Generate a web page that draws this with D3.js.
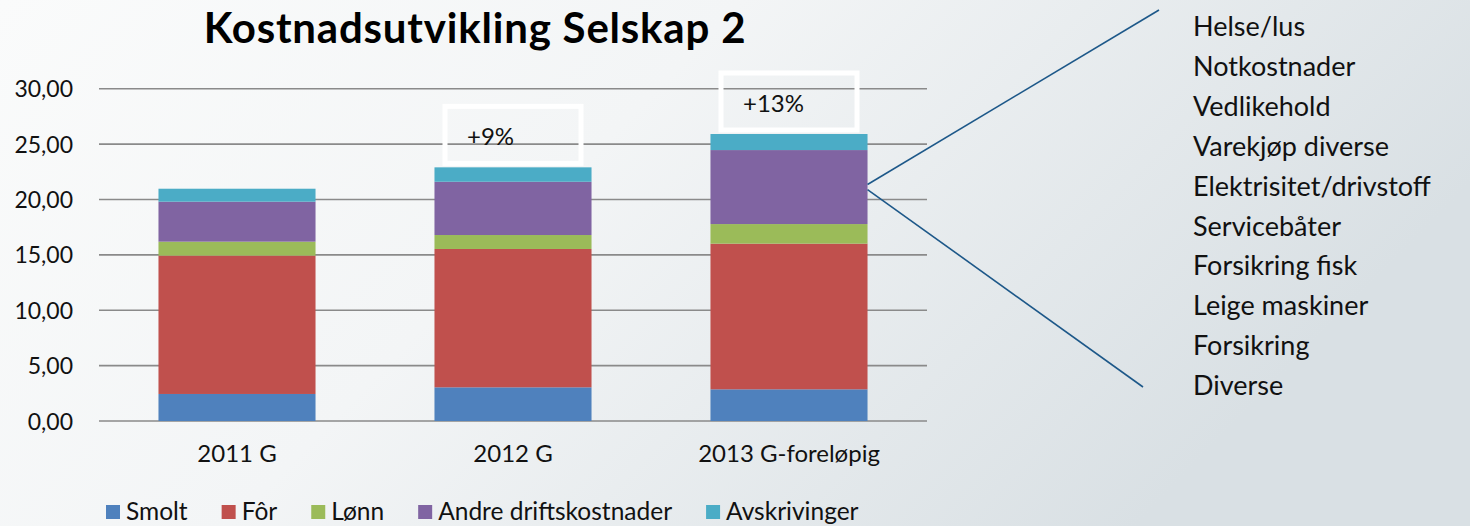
<!DOCTYPE html>
<html>
<head>
<meta charset="utf-8">
<script src="https://cdn.jsdelivr.net/npm/d3@7"></script>
<style>
  html, body { margin: 0; padding: 0; }
  body { width: 1470px; height: 526px; overflow: hidden; }
  svg { display: block; font-family: Lato, "Open Sans", sans-serif; }
</style>
</head>
<body>
<svg id="chart" width="1470" height="526"></svg>
<script>
// ---- data ----
const categories = ["2011 G", "2012 G", "2013 G-foreløpig"];
const seriesNames = ["Smolt", "Fôr", "Lønn", "Andre driftskostnader", "Avskrivinger"];
const smolt = [2.44, 3.04, 2.86];
const forValues = [12.49, 12.49, 13.15];
const lonn = [1.26, 1.26, 1.77];
const andre = [3.61, 4.81, 6.68];
const avskrivinger = [1.17, 1.30, 1.45];
const changeLabels = ["", "+9%", "+13%"];
const yTicks = [0, 5, 10, 15, 20, 25, 30];
const otherItems = ["Helse/lus", "Notkostnader", "Vedlikehold", "Varekjøp diverse",
  "Elektrisitet/drivstoff", "Servicebåter", "Forsikring fisk", "Leige maskiner",
  "Forsikring", "Diverse"];
const colors = ["#4f81bd", "#c0504d", "#9bbb59", "#8064a2", "#4bacc6"];

const seriesValues = [smolt, forValues, lonn, andre, avskrivinger];
const rows = categories.map((c, i) => {
  const r = { cat: c };
  seriesNames.forEach((s, k) => r[s] = seriesValues[k][i]);
  return r;
});

const svg = d3.select("#chart");

// background gradient
const defs = svg.append("defs");
const grad = defs.append("linearGradient").attr("id", "bg")
  .attr("x1", "0%").attr("y1", "0%").attr("x2", "100%").attr("y2", "35%");
grad.append("stop").attr("offset", "0%").attr("stop-color", "#fafbfb");
grad.append("stop").attr("offset", "45%").attr("stop-color", "#f3f5f6");
grad.append("stop").attr("offset", "100%").attr("stop-color", "#d9e0e4");
svg.append("rect").attr("width", 1470).attr("height", 526).attr("fill", "url(#bg)");

// scales
const x = d3.scaleBand().domain(categories).range([99, 927])
  .paddingInner(0.431).paddingOuter(0.2155);
const y = d3.scaleLinear().domain([0, 30]).range([421, 88.7]);

// gridlines
svg.append("g").selectAll("line").data(yTicks).join("line")
  .attr("x1", 99).attr("x2", 927)
  .attr("y1", d => y(d)).attr("y2", d => y(d))
  .attr("stroke", "#8a8a8a").attr("stroke-width", 1.6);

// y axis labels
const yAxis = d3.axisLeft(y).tickValues(yTicks).tickSize(0).tickPadding(0)
  .tickFormat(d => d3.format(".2f")(d).replace(".", ","));
const ya = svg.append("g").attr("transform", "translate(73,0)").call(yAxis);
ya.select(".domain").remove();
ya.selectAll("text").attr("font-family", "Lato").attr("font-size", 23).attr("fill", "#111").attr("dy", "0.35em");

// x axis labels
const xAxis = d3.axisBottom(x).tickSize(0).tickPadding(0);
const xa = svg.append("g").attr("transform", "translate(0,445)").call(xAxis);
xa.select(".domain").remove();
xa.selectAll("text").attr("font-family", "Lato").attr("font-size", 24).attr("fill", "#111").attr("dy", "0.71em");

// stacked bars
const stack = d3.stack().keys(seriesNames)(rows);
svg.append("g").selectAll("g").data(stack).join("g")
  .attr("fill", (d, i) => colors[i])
  .selectAll("rect").data(d => d).join("rect")
  .attr("x", d => x(d.data.cat))
  .attr("width", x.bandwidth())
  .attr("y", d => y(d[1]))
  .attr("height", d => y(d[0]) - y(d[1]));

// change annotation boxes
const totals = rows.map(r => d3.sum(seriesNames, s => r[s]));
const ann = svg.append("g").selectAll("g")
  .data(categories.map((c, i) => ({ c, t: totals[i], lab: changeLabels[i] })).filter(d => d.lab))
  .join("g")
  .attr("transform", d => `translate(${x(d.c) + x.bandwidth() / 2 - 68},${y(d.t) - 61})`);
ann.append("rect").attr("x", 0).attr("y", 0).attr("width", 136).attr("height", 57)
  .attr("fill", "none").attr("stroke", "#ffffff").attr("stroke-width", 5);
ann.append("text").attr("x", 22).attr("y", 39).text(d => d.lab)
  .attr("font-family", "Lato").attr("font-size", 24).attr("fill", "#111");

// connector lines from the Andre driftskostnader segment
const last = stack[3][2];
const midY = (y(last[0]) + y(last[1])) / 2;
const bx = x(categories[2]) + x.bandwidth();
svg.append("line").attr("x1", bx).attr("y1", midY - 2.5).attr("x2", 1159).attr("y2", 10)
  .attr("stroke", "#1d5889").attr("stroke-width", 1.6);
svg.append("line").attr("x1", bx).attr("y1", midY + 2.5).attr("x2", 1143).attr("y2", 387)
  .attr("stroke", "#1d5889").attr("stroke-width", 1.6);

// list of components
svg.append("g").selectAll("text").data(otherItems).join("text")
  .attr("x", 1193).attr("y", (d, i) => 36 + i * 39.9)
  .attr("font-family", "Lato").attr("font-size", 27).attr("fill", "#111")
  .text(d => d);

// title
svg.append("text").attr("x", 475).attr("y", 43).attr("text-anchor", "middle")
  .attr("font-family", "Lato").attr("font-weight", "bold").attr("font-size", 42)
  .attr("letter-spacing", 0.8)
  .attr("fill", "#000").text("Kostnadsutvikling Selskap 2");

// legend
const leg = svg.append("g").attr("transform", "translate(106,0)");
let lx = 0;
seriesNames.forEach((s, i) => {
  const g = leg.append("g").attr("transform", `translate(${lx},0)`);
  g.append("rect").attr("x", 0).attr("y", 505).attr("width", 14).attr("height", 14).attr("fill", colors[i]);
  const t = g.append("text").attr("x", 20).attr("y", 520)
    .attr("font-family", "Lato").attr("font-size", 24.5).attr("fill", "#111").text(s);
  lx += 20 + t.node().getComputedTextLength() + 34;
});
</script>
</body>
</html>
